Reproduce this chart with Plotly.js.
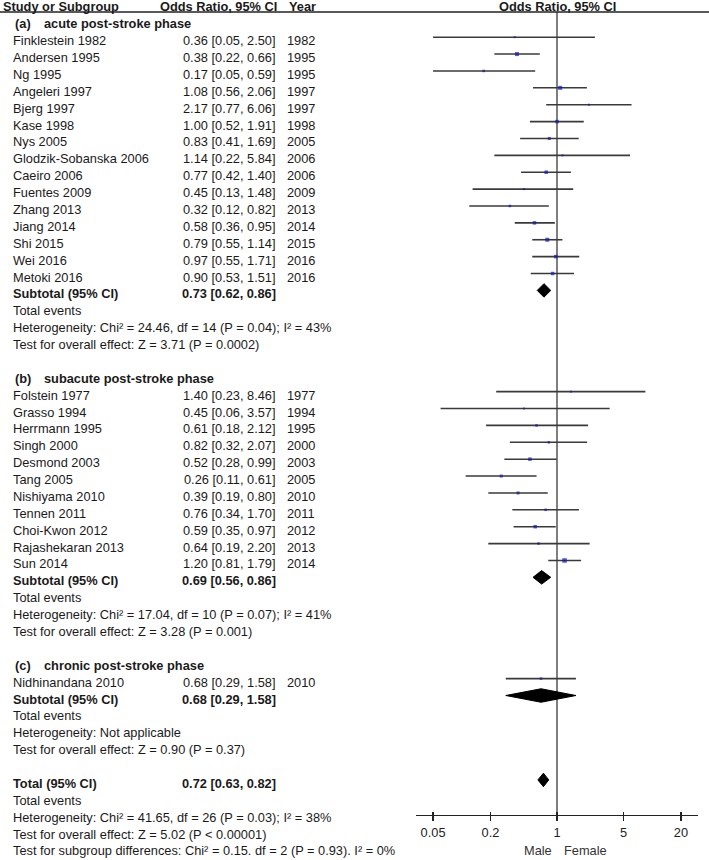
<!DOCTYPE html>
<html>
<head>
<meta charset="utf-8">
<script src="https://cdn.plot.ly/plotly-3.0.1.min.js"></script>
<style>html,body{margin:0;padding:0;background:#fff;}#chart{width:709px;height:860px;}</style>
</head>
<body>
<div id="chart"></div>
<script>
// ---------- DATA ----------
const studyA = ["Finklestein 1982","Andersen 1995","Ng 1995","Angeleri 1997","Bjerg 1997","Kase 1998","Nys 2005","Glodzik-Sobanska 2006","Caeiro 2006","Fuentes 2009","Zhang 2013","Jiang 2014","Shi 2015","Wei 2016","Metoki 2016"];
const orA   = [0.36,0.38,0.17,1.08,2.17,1.00,0.83,1.14,0.77,0.45,0.32,0.58,0.79,0.97,0.90];
const loA   = [0.05,0.22,0.05,0.56,0.77,0.52,0.41,0.22,0.42,0.13,0.12,0.36,0.55,0.55,0.53];
const hiA   = [2.50,0.66,0.59,2.06,6.06,1.91,1.69,5.84,1.40,1.48,0.82,0.95,1.14,1.71,1.51];
const yearA = [1982,1995,1995,1997,1997,1998,2005,2006,2006,2009,2013,2014,2015,2016,2016];

const studyB = ["Folstein 1977","Grasso 1994","Herrmann 1995","Singh 2000","Desmond 2003","Tang 2005","Nishiyama 2010","Tennen 2011","Choi-Kwon 2012","Rajashekaran 2013","Sun 2014"];
const orB   = [1.40,0.45,0.61,0.82,0.52,0.26,0.39,0.76,0.59,0.64,1.20];
const loB   = [0.23,0.06,0.18,0.32,0.28,0.11,0.19,0.34,0.35,0.19,0.81];
const hiB   = [8.46,3.57,2.12,2.07,0.99,0.61,0.80,1.70,0.97,2.20,1.79];
const yearB = [1977,1994,1995,2000,2003,2005,2010,2011,2012,2013,2014];

const studyC = ["Nidhinandana 2010"];
const orC   = [0.68];
const loC   = [0.29];
const hiC   = [1.58];
const yearC = [2010];

const groupTags   = ["(a)","(b)","(c)"];
const groupTitles = ["acute post-stroke phase","subacute post-stroke phase","chronic post-stroke phase"];
const subOR = [0.73,0.69,0.68];
const subLo = [0.62,0.56,0.29];
const subHi = [0.86,0.86,1.58];
const subHet = ["Heterogeneity: Chi\u00b2 = 24.46, df = 14 (P = 0.04); I\u00b2 = 43%",
                "Heterogeneity: Chi\u00b2 = 17.04, df = 10 (P = 0.07); I\u00b2 = 41%",
                "Heterogeneity: Not applicable"];
const subTest = ["Test for overall effect: Z = 3.71 (P = 0.0002)",
                 "Test for overall effect: Z = 3.28 (P = 0.001)",
                 "Test for overall effect: Z = 0.90 (P = 0.37)"];

const totOR = 0.72, totLo = 0.63, totHi = 0.82;
const totHet = "Heterogeneity: Chi\u00b2 = 41.65, df = 26 (P = 0.03); I\u00b2 = 38%";
const totTest = "Test for overall effect: Z = 5.02 (P < 0.00001)";
const totSub = "Test for subgroup differences: Chi\u00b2 = 0.15. df = 2 (P = 0.93). I\u00b2 = 0%";

const tickVals = [0.05,0.2,1,5,20];
const tickText = ["0.05","0.2","1","5","20"];

// ---------- STYLE ----------
const sizeA = [2,4,2.5,4,2,3.5,3,2,3.5,2,2.5,3.5,4,3.5,3.5];
const sizeB = [2,2,2.5,2.5,3.5,3,3,2.5,3.5,2.5,4.5];
const sizeC = [2.5];
const W = 709, H = 860;
const FONT = "Liberation Sans, Arial, sans-serif";
const FS = 12.8;
const TXT = "#1a1a1a";
const colName = 11/W, colORr = 278/W, colYearR = 317/W;
const textShift = -3.5;

// ---------- BUILD ----------
const groups = [
  {names:studyA, or:orA, lo:loA, hi:hiA, year:yearA, size:sizeA},
  {names:studyB, or:orB, lo:loB, hi:hiB, year:yearB, size:sizeB},
  {names:studyC, or:orC, lo:loC, hi:hiC, year:yearC, size:sizeC}
];
const fmt = (o,l,h) => o.toFixed(2)+" ["+l.toFixed(2)+", "+h.toFixed(2)+"]";

const ann = [];
function txt(row, x, text, anchor, bold){
  ann.push({xref:"paper", yref:"y", x:x, y:-row, xanchor:anchor, yanchor:"middle",
            yshift:textShift, showarrow:false, text: bold ? "<b>"+text+"</b>" : text,
            font:{family:FONT, size:FS, color:TXT}});
}

const ciX = [], ciY = [], sqX = [], sqY = [], sqS = [];
const diamonds = [];
function diamond(row, o, l, h, half){
  diamonds.push({x:[l,o,h,o,l], y:[-row, -row+half, -row, -row-half, -row]});
}

let row = 0;
groups.forEach((g, gi) => {
  txt(row, 13/W, groupTags[gi], "left", true);
  txt(row, 42/W, groupTitles[gi], "left", true);
  row++;
  g.names.forEach((n, i) => {
    txt(row, colName, n, "left", false);
    txt(row, colORr, fmt(g.or[i], g.lo[i], g.hi[i]), "right", false);
    txt(row, colYearR, String(g.year[i]), "right", false);
    ciX.push(g.lo[i], g.hi[i], null); ciY.push(-row, -row, null);
    sqX.push(g.or[i]); sqY.push(-row); sqS.push(g.size[i]);
    row++;
  });
  txt(row, colName, "Subtotal (95% CI)", "left", true);
  txt(row, colORr, fmt(subOR[gi], subLo[gi], subHi[gi]), "right", true);
  diamond(row, subOR[gi], subLo[gi], subHi[gi], 0.40);
  row++;
  txt(row, colName, "Total events", "left", false); row++;
  txt(row, colName, subHet[gi], "left", false); row++;
  txt(row, colName, subTest[gi], "left", false); row++;
  row++; // blank
});
txt(row, colName, "Total (95% CI)", "left", true);
txt(row, colORr, fmt(totOR, totLo, totHi), "right", true);
diamond(row, totOR, totLo, totHi, 0.40);
row++;
txt(row, colName, "Total events", "left", false); row++;
txt(row, colName, totHet, "left", false); row++;
txt(row, colName, totTest, "left", false); row++;
txt(row, colName, totSub, "left", false); row++;

// header texts
const headY = 1 - 6/H;
function head(x, text, anchor, xref){
  ann.push({xref:xref||"paper", yref:"paper", x:x, y:headY, xanchor:anchor, yanchor:"middle", borderpad:0,
            showarrow:false, text:"<b>"+text+"</b>", font:{family:FONT, size:FS, color:TXT}});
}
head(2/W, "Study or Subgroup", "left");
head(colORr, "Odds Ratio, 95% CI", "right");
head(colYearR, "Year", "right");
head(0, "Odds Ratio, 95% CI", "center", "x");   // x in log10 units: 10^0 = 1

// Male / Female (x in log10 units on the log axis)
const mfY = 1 - 850/H;
ann.push({xref:"x", yref:"paper", x:0, y:mfY, xanchor:"right", xshift:-3, yanchor:"middle", showarrow:false,
          text:"Male", font:{family:FONT, size:FS, color:"#333"}});
ann.push({xref:"x", yref:"paper", x:0, y:mfY, xanchor:"left", xshift:5, yanchor:"middle", showarrow:false,
          text:"Female", font:{family:FONT, size:FS, color:"#333"}});

const traces = [];
traces.push({x:ciX, y:ciY, mode:"lines", line:{color:"#3a3a3a", width:1.6}, hoverinfo:"skip", showlegend:false});
traces.push({x:sqX, y:sqY, mode:"markers", marker:{symbol:"square", size:sqS, color:"#1414b4", line:{width:0}}, hoverinfo:"skip", showlegend:false});
diamonds.forEach(d => traces.push({x:d.x, y:d.y, mode:"lines", fill:"toself", fillcolor:"#000", line:{color:"#000", width:1}, hoverinfo:"skip", showlegend:false}));
traces.push({x:[1], y:[0], xaxis:"x2", mode:"markers", marker:{opacity:0}, hoverinfo:"skip", showlegend:false});

const axisPos = 1 - 815/H;
const rowPx0 = 20.3, rowStep = 16.88;
const yTop = rowPx0/rowStep, yBot = -(H - rowPx0)/rowStep;
const xDom = [416/W, 698/W];
const xRange = [-1.48, 1.48];

const layout = {
  width:W, height:H,
  margin:{l:0, r:0, t:0, b:0, pad:0},
  paper_bgcolor:"#fff", plot_bgcolor:"rgba(0,0,0,0)",
  showlegend:false,
  font:{family:FONT, size:FS, color:TXT},
  xaxis:{type:"log", domain:xDom, range:xRange, anchor:"free", position:axisPos,
         showline:true, linecolor:"#222", linewidth:1.4, showgrid:false, zeroline:false,
         ticks:"outside", ticklen:5, tickwidth:1.4, tickcolor:"#222",
         tickmode:"array", tickvals:tickVals, ticktext:tickText,
         tickfont:{family:FONT, size:FS, color:"#222"}, fixedrange:true},
  xaxis2:{type:"log", overlaying:"x", domain:xDom, range:xRange, anchor:"free", position:axisPos,
          showline:false, showgrid:false, zeroline:false, ticks:"inside", ticklen:3, tickwidth:1.4, tickcolor:"#222",
          tickmode:"array", tickvals:tickVals, showticklabels:false, fixedrange:true},
  yaxis:{range:[yBot, yTop], domain:[0,1], visible:false, showgrid:false, zeroline:false, fixedrange:true},
  shapes:[
    {type:"line", xref:"paper", yref:"paper", x0:0, x1:1, y0:1-12/H, y1:1-12/H, line:{color:"#222", width:1.4}},
    {type:"line", xref:"x", yref:"paper", x0:1, x1:1, y0:axisPos, y1:1-12/H, line:{color:"#555", width:1.5}, layer:"below"}
  ],
  annotations:ann
};

Plotly.newPlot("chart", traces, layout, {staticPlot:true, displayModeBar:false});
</script>
</body>
</html>
